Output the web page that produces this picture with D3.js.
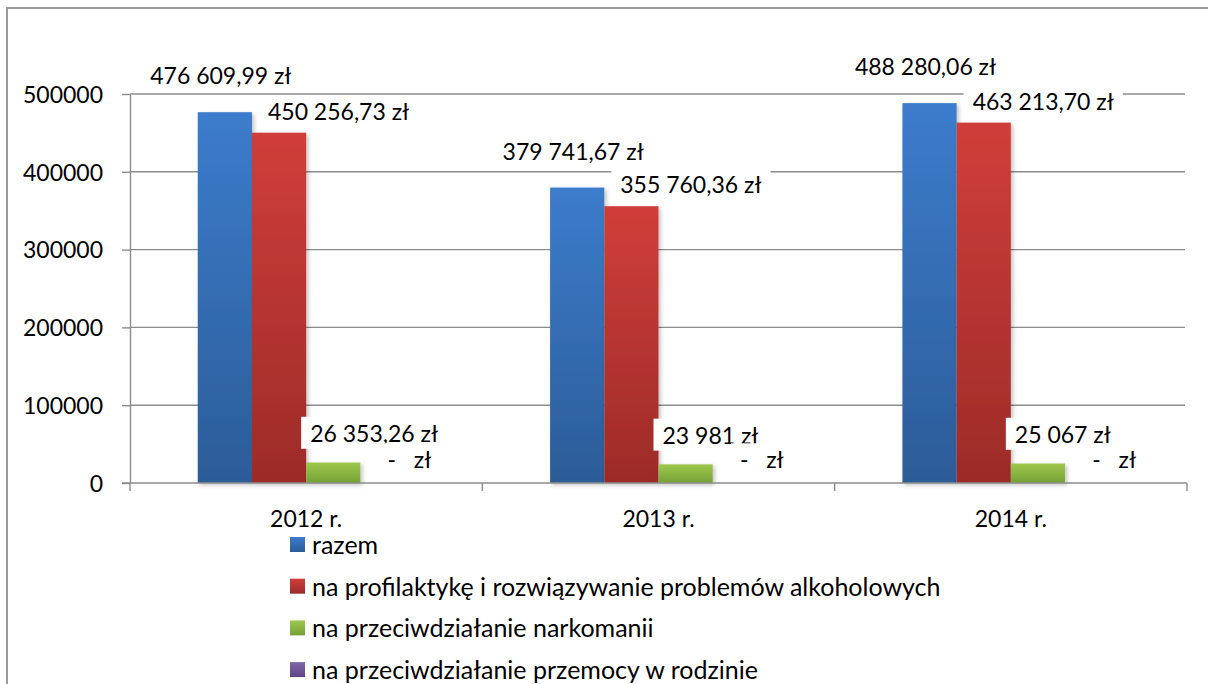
<!DOCTYPE html>
<html><head><meta charset="utf-8">
<script src="https://cdn.jsdelivr.net/npm/d3@7"></script>
<style>
body{margin:0;background:#fff}
svg text{font-family:Lato,"Noto Sans",sans-serif;fill:#000}
</style>
</head><body>
<svg id="chart" width="1208" height="684"></svg>
<script>
// ---- data ----
const categories = ["2012 r.", "2013 r.", "2014 r."];
const seriesNames = [
  "razem",
  "na profilaktykę i rozwiązywanie problemów alkoholowych",
  "na przeciwdziałanie narkomanii",
  "na przeciwdziałanie przemocy w rodzinie"
];
const razem = [476609.99, 379741.67, 488280.06];
const alkohol = [450256.73, 355760.36, 463213.70];
const narkomania = [26353.26, 23981, 25067];
const przemoc = [0, 0, 0];
const yTicks = [0, 100000, 200000, 300000, 400000, 500000];

const seriesValues = [razem, alkohol, narkomania, przemoc];
const colors = [
  ["#3c7ccc", "#2c5c98"],
  ["#d03e3a", "#9c2b28"],
  ["#9fc84e", "#76a035"],
  ["#8165aa", "#5e4484"]
];

// ---- layout ----
const W = 1208, H = 684;
const FS = 23, LFS = 25;
const plot = {left: 130, right: 1187, top: 94, bottom: 483, gridRight: 1185};

const svg = d3.select("#chart");
svg.append("rect").attr("width", W).attr("height", H).attr("fill", "#fff");

const defs = svg.append("defs");
colors.forEach((c, i) => {
  const g = defs.append("linearGradient").attr("id", "g" + i)
    .attr("x1", 0).attr("y1", 0).attr("x2", 0).attr("y2", 1);
  g.append("stop").attr("offset", "0%").attr("stop-color", c[0]);
  g.append("stop").attr("offset", "100%").attr("stop-color", c[1]);
});
const f = defs.append("filter").attr("id", "sh").attr("x", "-20%").attr("y", "-20%").attr("width", "150%").attr("height", "150%");
f.append("feDropShadow").attr("dx", 2).attr("dy", 2).attr("stdDeviation", 2)
  .attr("flood-color", "#000").attr("flood-opacity", 0.25);

// outer border (left + top visible)
svg.append("path").attr("d", `M7,${H} L7,8 L${W},8`)
  .attr("fill", "none").attr("stroke", "#9a9a9a").attr("stroke-width", 2);

const x = d3.scaleBand().domain(categories).range([plot.left, plot.right]).paddingInner(0).paddingOuter(0);
const xs = d3.scaleBand().domain(d3.range(seriesValues.length)).range([0, x.bandwidth()])
  .paddingInner(0).paddingOuter(1.25);
const y = d3.scaleLinear().domain([0, 500000]).range([plot.bottom, plot.top]);

// gridlines
svg.append("g").selectAll("line").data(yTicks.filter(d => d > 0)).join("line")
  .attr("x1", plot.left).attr("x2", plot.gridRight)
  .attr("y1", d => y(d)).attr("y2", d => y(d))
  .attr("stroke", "#8c8c8c").attr("stroke-width", 1.4);

// y axis
const yAxis = svg.append("g").attr("transform", `translate(${plot.left},0)`)
  .call(d3.axisLeft(y).tickValues(yTicks).tickFormat(d3.format("d")).tickSize(8).tickSizeOuter(0).tickPadding(19));
yAxis.selectAll("line, path").attr("stroke", "#8c8c8c").attr("stroke-width", 1.4);
yAxis.selectAll("text").attr("font-size", FS).attr("dy", "0.36em").style("font-family", "Lato");

// bars
const fmtNum = d3.formatLocale({decimal: ",", thousands: " ", grouping: [3], currency: ["", " zł"]});
const f2 = fmtNum.format(",.2f"), f0 = fmtNum.format(",.0f");
function fmt(v) {
  if (v === 0) return "-   zł";
  return (Number.isInteger(v) ? f0(v) : f2(v)) + " zł";
}

const pts = [];
seriesValues.forEach((vals, s) => vals.forEach((v, i) => pts.push({s, i, v, cat: categories[i]})));

svg.append("g").selectAll("rect").data(pts.filter(p => p.v > 0)).join("rect")
  .attr("x", p => x(p.cat) + xs(p.s))
  .attr("y", p => y(p.v))
  .attr("width", xs.bandwidth())
  .attr("height", p => y(0) - y(p.v))
  .attr("fill", p => `url(#g${p.s})`)
  .attr("filter", "url(#sh)");

// x axis line and boundary ticks
svg.append("line").attr("x1", plot.left - 8).attr("x2", plot.right)
  .attr("y1", y(0)).attr("y2", y(0)).attr("stroke", "#8c8c8c").attr("stroke-width", 1.4);
const bounds = categories.map(c => x(c)).concat([x.range()[1]]);
svg.append("g").selectAll("line").data(bounds).join("line")
  .attr("x1", d => d).attr("x2", d => d).attr("y1", y(0)).attr("y2", y(0) + 8)
  .attr("stroke", "#8c8c8c").attr("stroke-width", 1.4);

const xAxis = svg.append("g").attr("transform", `translate(0,${y(0)})`)
  .call(d3.axisBottom(x).tickSize(0).tickPadding(0));
xAxis.select(".domain").remove();
xAxis.selectAll("text").attr("font-size", FS).attr("y", 44).attr("dy", 0).style("font-family", "Lato");

// data labels (placement relative to each bar, per series)
const labelPlace = [
  {anchor: "middle", dx: p => xs.bandwidth() / 2 - 4, dy: -36},
  {anchor: "start", dx: p => 16, dy: -21},
  {anchor: "start", dx: p => 4, dy: -29},
  {anchor: "middle", dx: p => xs.bandwidth() / 2 + 22, dy: -23}
];
const lg = svg.append("g");
pts.forEach(p => {
  const L = labelPlace[p.s];
  const cx = x(p.cat) + xs(p.s) + L.dx(p);
  const cy = y(p.v) + L.dy;
  const g = lg.append("g");
  const bg = g.append("rect").attr("fill", "#fff");
  const t = g.append("text").attr("x", cx).attr("y", cy).attr("dy", "0.36em")
    .attr("text-anchor", L.anchor).attr("font-size", FS).style("white-space", "pre")
    .text(fmt(p.v));
  const b = t.node().getBBox();
  bg.attr("x", b.x - 9).attr("y", b.y - 2).attr("width", b.width + 18).attr("height", b.height + 4);
});

// legend
const leg = svg.append("g").attr("transform", "translate(290,544)");
const rows = leg.selectAll("g").data(seriesNames).join("g")
  .attr("transform", (d, i) => `translate(0,${i * 41.7})`);
rows.append("rect").attr("x", 0).attr("y", -7).attr("width", 15).attr("height", 15)
  .attr("fill", (d, i) => `url(#g${i})`);
rows.append("text").attr("x", 22).attr("y", 1).attr("dy", "0.36em")
  .attr("font-size", LFS).text(d => d);
</script>
</body></html>
